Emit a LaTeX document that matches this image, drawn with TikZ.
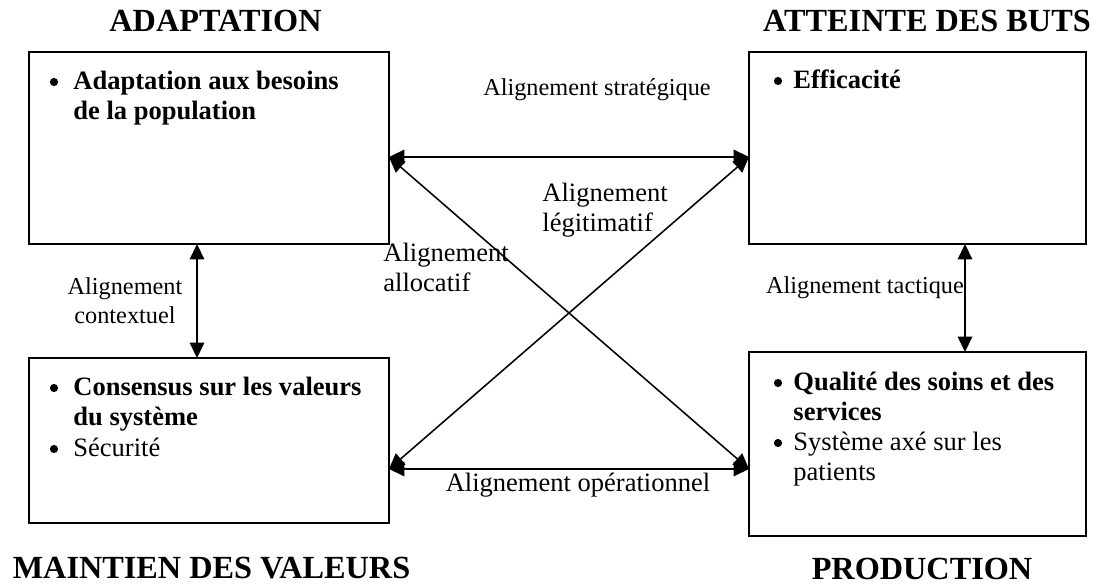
\documentclass[tikz,border=0pt]{standalone}
\usepackage{fontspec}
\setmainfont{Liberation Serif}
\usetikzlibrary{arrows.meta,calc}
\begin{document}
\begin{tikzpicture}[x=0.4525pt,y=-0.4525pt,
  box/.style={draw,line width=0.9pt,inner sep=0pt,outer sep=0pt,anchor=north west},
  biarr/.style={line width=0.7pt,{Triangle[length=7pt,width=6.6pt]}-{Triangle[length=7pt,width=6.6pt]}},
  ttl/.style={font=\bfseries\fontsize{14.6}{16}\selectfont,anchor=base,inner sep=0pt},
  body/.style={anchor=base west,inner sep=0pt,align=left,font=\fontsize{12}{13.6}\selectfont},
  bodyb/.style={anchor=base west,inner sep=0pt,align=left,font=\bfseries\fontsize{12}{13.6}\selectfont},
  bul/.style={circle,fill,inner sep=0pt,minimum size=3.7pt},
  lbls/.style={inner sep=0pt,font=\fontsize{11}{13.2}\selectfont},
  lblb/.style={inner sep=0pt,font=\fontsize{12}{13.6}\selectfont},
]
\useasboundingbox (0,0) rectangle (1096,586);

% boxes
\node[box,minimum width=162.9pt,minimum height=86.88pt] (tl) at (29,52) {};
\node[box,minimum width=152.49pt,minimum height=86.88pt] (tr) at (749,52) {};
\node[box,minimum width=162.9pt,minimum height=74.66pt] (bl) at (29,358) {};
\node[box,minimum width=152.49pt,minimum height=83.26pt] (br) at (749,352) {};

% titles
\node[ttl] (t1) at (215.5,32) {ADAPTATION};
\node[ttl] (t2) at (927,32) {ATTEINTE DES BUTS};
\node[ttl] (t3) at (211.5,579) {MAINTIEN DES VALEURS};
\node[ttl] (t4) at (922,580) {PRODUCTION};

% box contents (multi-line nodes: base = last line)
\node[bul] (b1) at (54,82) {};
\node[bodyb] (x1) at (73,120) {Adaptation aux besoins\\de la population};
\node[bul] (b2) at (778,81) {};
\node[bodyb] (x2) at (793,89) {Efficacité};
\node[bul] (b3) at (54,388) {};
\node[bodyb] (x3) at (73,426) {Consensus sur les valeurs\\du système};
\node[bul] (b4) at (54,449) {};
\node[body] (x4) at (73,457) {Sécurité};
\node[bul] (b5) at (778,383) {};
\node[bodyb] (x5) at (793,421) {Qualité des soins et des\\services};
\node[bul] (b6) at (778,443) {};
\node[body] (x6) at (793,481) {Système axé sur les\\patients};

% labels
\node[lbls,anchor=base] (ls) at (597,96) {Alignement stratégique};
\node[lblb,anchor=base west,align=left] (ll) at (542,232) {Alignement\\légitimatif};
\node[lblb,anchor=base west,align=left] (la) at (383,292) {Alignement\\allocatif};
\node[lbls,anchor=base,align=center] (lc) at (125,324) {Alignement\\contextuel};
\node[lbls,anchor=base] (lt) at (865,294) {Alignement tactique};
\node[lblb,anchor=base] (lo) at (578,492) {Alignement opérationnel};

% connectors
\draw[biarr] ($(tl.north east)+(0,105)$) -- ($(tr.north west)+(0,105)$);
\draw[biarr] ($(tl.north east)+(0,105)$) -- ($(br.north west)+(0,117)$);
\draw[biarr] ($(bl.north east)+(0,111)$) -- ($(tr.north west)+(0,105)$);
\draw[biarr] ($(bl.north east)+(0,111)$) -- ($(br.north west)+(0,117)$);
\draw[biarr] ($(tl.south west)+(168,0)$) -- ($(bl.north west)+(168,0)$);
\draw[biarr] ($(tr.south west)+(216,0)$) -- ($(br.north west)+(216,0)$);
\end{tikzpicture}
\end{document}
